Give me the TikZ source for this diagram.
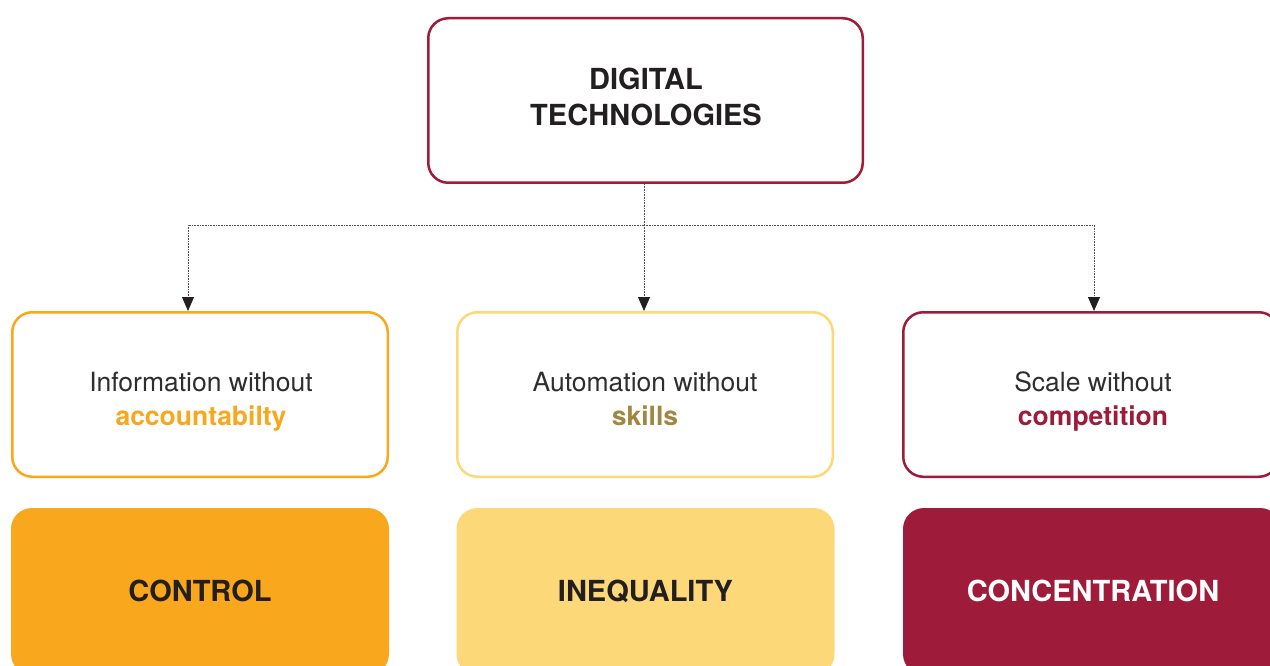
\documentclass[tikz,border=0pt]{standalone}
\usepackage{fontspec}
\setmainfont{TeX Gyre Heros}
\usetikzlibrary{arrows.meta,calc}
\definecolor{crimson}{HTML}{9E1B3A}
\definecolor{orangec}{HTML}{F9A71C}
\definecolor{yellowc}{HTML}{FDD878}
\definecolor{olivec}{HTML}{A2853F}
\definecolor{inkc}{HTML}{231F20}
\definecolor{grayc}{HTML}{2E2E2E}
\definecolor{linec}{HTML}{555555}
\tikzset{
  outlinebox/.style={rectangle,rounded corners=20pt,line width=2.5pt,inner sep=0pt,
    minimum width=375.5pt,minimum height=164.5pt,fill=white},
  fillbox/.style={rectangle,rounded corners=21pt,inner sep=0pt,
    minimum width=378pt,minimum height=167pt},
  headtext/.style={anchor=base,inner sep=0pt,font=\fontsize{29}{35}\selectfont\bfseries},
  plaintext/.style={anchor=base,inner sep=0pt,text=grayc,font=\fontsize{26.5}{32}\selectfont},
  boldtext/.style={anchor=base,inner sep=0pt,font=\fontsize{26.5}{32}\selectfont\bfseries},
  dotline/.style={draw=linec,line width=0.8pt,dash pattern=on 0.8pt off 0.8pt},
  tipline/.style={dotline,-{Triangle[width=12pt,length=14pt,fill=inkc,color=inkc]}}
}
\begin{document}
\begin{tikzpicture}[x=1pt,y=-1pt]
\useasboundingbox (0,0) rectangle (1270,666);
\clip (0,0) rectangle (1270,666);
% top box
\node[outlinebox,draw=crimson,minimum width=434.5pt] (top) at (645.5,100.5) {};
\node[headtext,text=inkc] (t1) at (646,90) {DIGITAL};
\node[headtext,text=inkc] (t2) at (646,126) {TECHNOLOGIES};
% middle boxes
\node[outlinebox,draw=orangec] (m1) at (200,394.5) {};
\node[outlinebox,draw=yellowc] (m2) at (645,394.5) {};
\node[outlinebox,draw=crimson] (m3) at (1091,394.5) {};
\node[plaintext] (m1a) at (201,391) {Information without};
\node[boldtext,text=orangec] (m1b) at (201,425.5) {accountabilty};
\node[plaintext] (m2a) at (645,391) {Automation without};
\node[boldtext,text=olivec] (m2b) at (645,425.5) {skills};
\node[plaintext] (m3a) at (1093,391) {Scale without};
\node[boldtext,text=crimson] (m3b) at (1093,425.5) {competition};
% bottom boxes
\node[fillbox,fill=orangec] (b1) at (200,591.5) {};
\node[fillbox,fill=yellowc] (b2) at (645.5,591.5) {};
\node[fillbox,fill=crimson] (b3) at (1092,591.5) {};
\node[headtext,text=inkc] (b1t) at (200,601) {CONTROL};
\node[headtext,text=inkc] (b2t) at (645.5,601) {INEQUALITY};
\node[headtext,text=white] (b3t) at (1093,601) {CONCENTRATION};
% connectors
\coordinate (hub) at (644,225);
\draw[dotline] (top.south -| hub) -- (hub);
\draw[tipline] (hub) -| ([xshift=-12pt]m1.north);
\draw[tipline] (hub) -- (m2.north -| hub);
\draw[tipline] (hub) -| ([xshift=3pt]m3.north);
\end{tikzpicture}
\end{document}
